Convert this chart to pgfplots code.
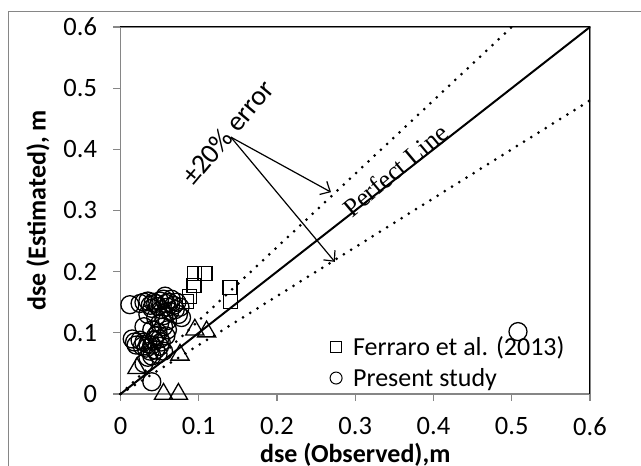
\documentclass[border=0pt]{standalone}
\usepackage{pgfplots}
\pgfplotsset{compat=1.18}
\usepackage{fontspec}
\setmainfont{Carlito}
\newfontfamily\timesfont{Liberation Serif}
\usetikzlibrary{arrows.meta}
\definecolor{axgray}{RGB}{134,134,134}
\begin{document}
\begin{tikzpicture}
\path[use as bounding box] (-120.5pt,-72pt) rectangle (520.5pt,394pt);
\draw[axgray, line width=1.2pt] (-112pt,-90pt) -- (-112pt,382.3pt) -- (540pt,382.3pt);
\begin{axis}[
  at={(0,0)}, anchor=south west,
  scale only axis, width=469.5pt, height=367pt,
  xmin=0, xmax=0.6, ymin=0, ymax=0.6,
  xtick={0,0.1,0.2,0.3,0.4,0.5,0.6},
  ytick={0,0.1,0.2,0.3,0.4,0.5,0.6},
  xtick pos=bottom, ytick pos=left,
  tick align=outside, major tick length=7pt,
  tick style={axgray, line width=1.2pt},
  axis line style={axgray, line width=1.2pt},
  /pgf/number format/.cd, fixed, precision=1, assume math mode=true, /pgfplots/.cd,
  ticklabel style={font=\fontsize{26.5}{30}\selectfont},
  xticklabel style={yshift=-13pt},
  yticklabel style={xshift=-13pt},
  xlabel={\textbf{dse (Observed),m}},
  ylabel={\textbf{dse (Estimated), m}},
  every axis x label/.style={at={(axis description cs:0.5,-0.166)}, anchor=center, font=\fontsize{26}{30}\selectfont},
  every axis y label/.style={at={(axis description cs:-0.1757,0.5)}, anchor=center, rotate=90, font=\fontsize{26}{30}\selectfont},
  clip=false,
  legend style={draw=none, fill=none, at={(axis description cs:0.446,0.162)}, anchor=north west,
    font=\fontsize{26}{30}\selectfont, row sep=7pt, inner sep=0pt,
    /tikz/every odd column/.append style={column sep=9pt}},
  legend cell align=left,
]
% reference lines
\addplot[black, line width=2pt, forget plot] coordinates {(0,0) (0.6,0.6)};
\addplot[black, line width=3pt, dash pattern=on 0pt off 8.5pt, line cap=round, forget plot] coordinates {(0,0) (0.5,0.6)};
\addplot[black, line width=3pt, dash pattern=on 0pt off 8.5pt, line cap=round, forget plot] coordinates {(0,0) (0.6,0.48)};
% Ferraro et al. (2013)
\addplot[only marks, mark=square, mark size=7pt, line width=1.3pt, black,
  legend image code/.code={\draw[black, line width=1pt, mark=square, mark size=5.5pt] plot coordinates {(0.2cm,0cm)};}]
coordinates {(0.095,0.197) (0.108,0.197) (0.094,0.177) (0.088,0.159) (0.084,0.151) (0.140,0.174) (0.141,0.151)};
\addlegendentry{Ferraro et al. (2013)}
% Present study
\addplot[only marks, mark=o, mark size=9pt, line width=1.3pt, black,
  legend image code/.code={\draw[black, line width=1pt, mark=o, mark size=6pt] plot coordinates {(0.2cm,0cm)};}]
coordinates {
(0.012,0.146) (0.025,0.148) (0.030,0.150) (0.035,0.152) (0.038,0.145) (0.040,0.140)
(0.042,0.150) (0.045,0.148) (0.048,0.143) (0.050,0.152) (0.052,0.138) (0.055,0.155)
(0.057,0.160) (0.058,0.148) (0.060,0.142) (0.062,0.150) (0.063,0.135) (0.065,0.155)
(0.068,0.145) (0.070,0.138) (0.072,0.150) (0.074,0.130) (0.076,0.142) (0.078,0.125)
(0.035,0.130) (0.045,0.125) (0.055,0.128) (0.060,0.120) (0.050,0.115) (0.030,0.110)
(0.040,0.105) (0.048,0.100) (0.055,0.110) (0.058,0.095) (0.050,0.090) (0.045,0.095)
(0.060,0.105) (0.015,0.090) (0.018,0.085) (0.020,0.080) (0.025,0.088) (0.028,0.078)
(0.030,0.085) (0.033,0.075) (0.035,0.082) (0.038,0.070) (0.040,0.080) (0.043,0.088)
(0.045,0.072) (0.048,0.065) (0.050,0.078) (0.052,0.085) (0.040,0.062) (0.035,0.060)
(0.030,0.050) (0.055,0.070) (0.040,0.020) (0.508,0.102)};
\addlegendentry{Present study}
% triangles (unlabelled series)
\addplot[only marks, mark=triangle, mark size=10.5pt, line width=1.3pt, black, forget plot]
coordinates {(0.021,0.042) (0.095,0.105) (0.110,0.102) (0.076,0.064) (0.055,0.0) (0.074,0.0)};
% top and right frame
\draw[black, line width=1pt] (rel axis cs:0,1) -- (rel axis cs:1,1) -- (rel axis cs:1,0);
% annotations
\node[rotate=50, font=\fontsize{28}{30}\selectfont, anchor=center] at (axis cs:0.137,0.428) {±20\% error};
\node[rotate=40, font=\timesfont\fontsize{26}{30}\selectfont, anchor=center] at (axis cs:0.351,0.366) {Perfect Line};
\draw[black, line width=1.2pt, -{Straight Barb[length=8pt,width=15pt,line width=1.2pt]}] (axis cs:0.141,0.420) -- (axis cs:0.269,0.330);
\draw[black, line width=1.2pt, -{Straight Barb[length=8pt,width=15pt,line width=1.2pt]}] (axis cs:0.141,0.420) -- (axis cs:0.274,0.216);
\end{axis}
\end{tikzpicture}
\end{document}
